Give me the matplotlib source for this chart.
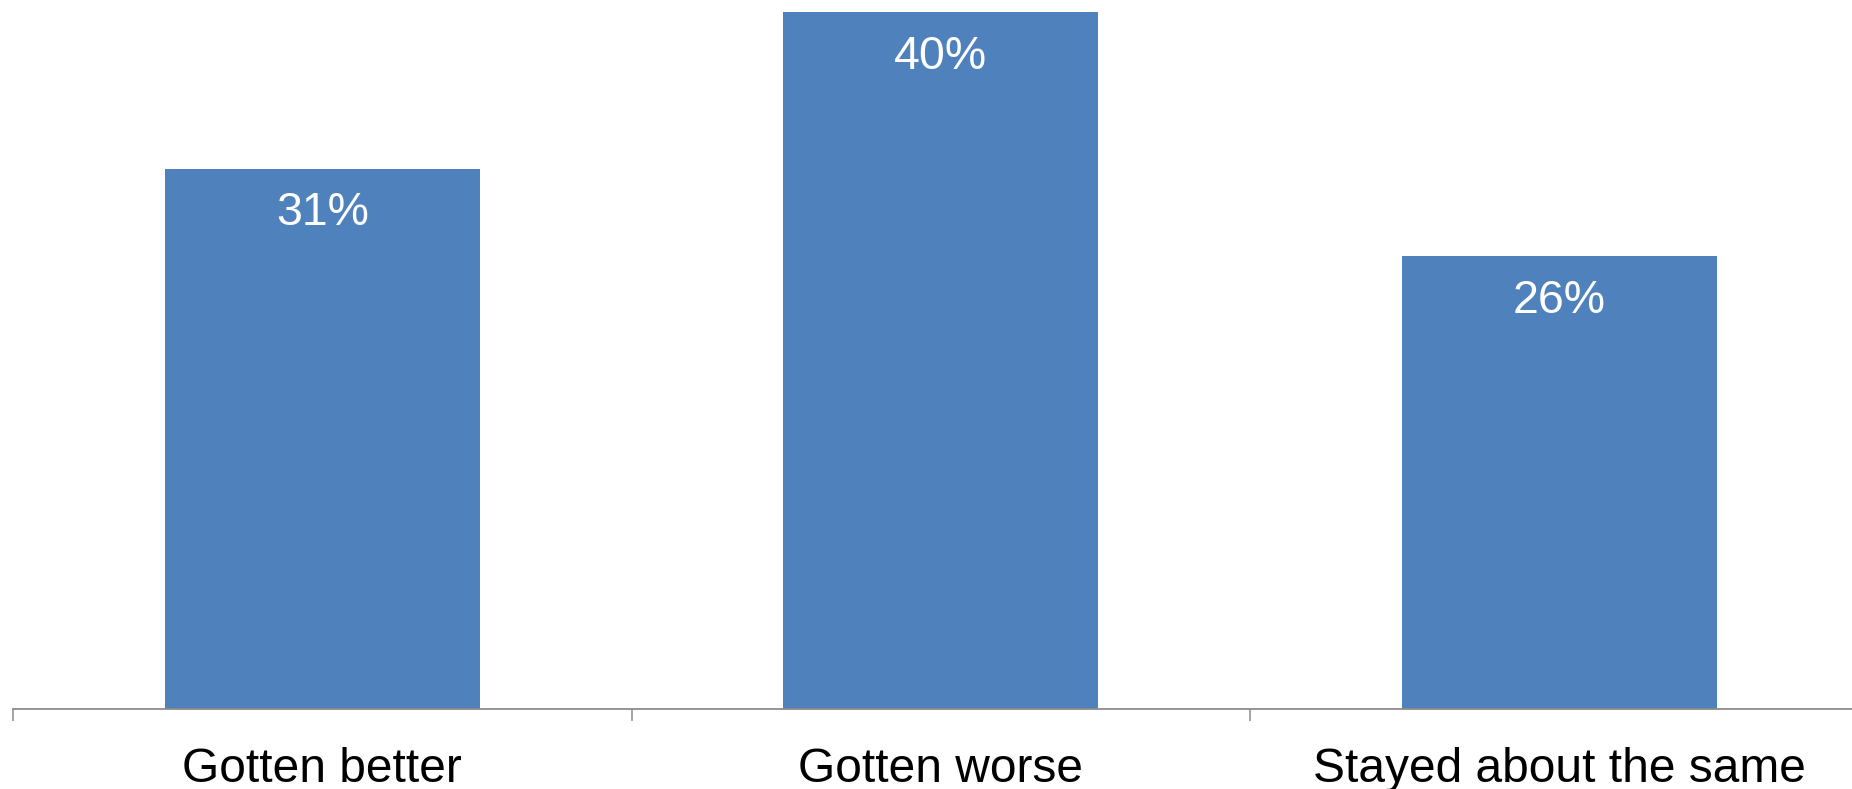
import matplotlib
matplotlib.use("Agg")
import matplotlib.pyplot as plt
from matplotlib.ticker import FixedLocator

categories = ["Gotten better", "Gotten worse", "Stayed about the same"]
values = [31, 40, 26]
value_labels = ["31%", "40%", "26%"]

plt.rcParams['font.family'] = ['Liberation Sans', 'DejaVu Sans']

W, H = 1852, 789
fig = plt.figure(figsize=(W / 100, H / 100), dpi=100)
ax = fig.add_axes([13 / W, 80 / H, 1855.5 / W, 709 / H])

x = list(range(len(categories)))
bars = ax.bar(x, values, width=0.51, color="#4F81BD", zorder=2)

ax.set_xlim(-0.5, len(categories) - 0.5)
ax.set_ylim(0, 40.68)

for xi, v, lab in zip(x, values, value_labels):
    ax.annotate(lab, xy=(xi, v), xytext=(0, -40.8), textcoords="offset points",
                ha="center", va="baseline", color="white", fontsize=33.5)

for s in ["left", "right", "top"]:
    ax.spines[s].set_visible(False)
ax.spines["bottom"].set_color("#8C8C8C")
ax.spines["bottom"].set_linewidth(1.3)
ax.spines["bottom"].set_zorder(3)

ax.set_yticks([])
ax.set_xticks(x)
ax.set_xticklabels(categories, fontsize=34.5, color="black")
ax.tick_params(axis="x", which="major", length=0, pad=27)
ax.xaxis.set_minor_locator(FixedLocator([i - 0.5 for i in range(len(categories) + 1)]))
ax.tick_params(axis="x", which="minor", length=8.6, width=1.1, color="#8C8C8C")

fig.savefig("out.png", dpi=100)
